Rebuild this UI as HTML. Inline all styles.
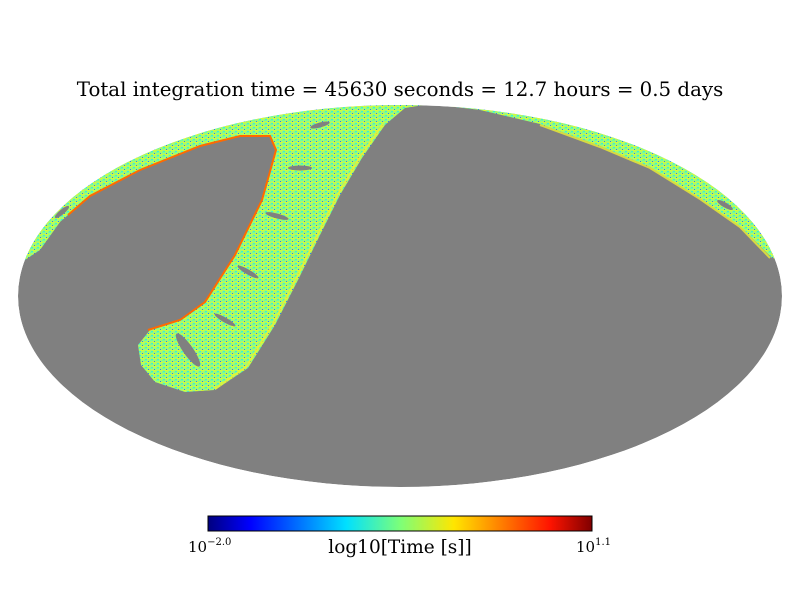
<!DOCTYPE html>
<html><head><meta charset="utf-8"><style>
html,body{margin:0;padding:0;background:#fff;width:800px;height:600px;overflow:hidden}
svg{display:block}
</style></head><body>
<svg width="800" height="600" viewBox="0 0 800 600">
<defs>
<clipPath id="ell"><ellipse cx="400" cy="296" rx="382" ry="191"/></clipPath>
<pattern id="tex" width="6" height="4" patternUnits="userSpaceOnUse">
<rect width="6" height="4" fill="#a8fa6a"/>
<rect x="0" y="0" width="3" height="1" fill="#6cffa0"/>
<rect x="3" y="2" width="3" height="1" fill="#d8ff30"/>
<rect x="1" y="3" width="2" height="1" fill="#40f0d0"/>
<rect x="4" y="1" width="1" height="1" fill="#2080ff"/>
</pattern>
<linearGradient id="jet" x1="0" x2="1" y1="0" y2="0">
<stop offset="0" stop-color="#00007f"/><stop offset="0.11" stop-color="#0000ff"/>
<stop offset="0.36" stop-color="#00e0ff"/><stop offset="0.5" stop-color="#7cff79"/>
<stop offset="0.64" stop-color="#ffe600"/><stop offset="0.89" stop-color="#ff1400"/>
<stop offset="1" stop-color="#7f0000"/></linearGradient>
</defs>
<text x="400" y="96" text-anchor="middle" font-family="'DejaVu Serif','Liberation Serif',serif" font-size="19.8" fill="#000">Total integration time = 45630 seconds = 12.7 hours = 0.5 days</text>
<g clip-path="url(#ell)">
<ellipse cx="400" cy="296" rx="382" ry="191" fill="#808080"/>
<path fill="url(#tex)" d="M0,262 L0,0 L800,0 L800,262 L772,258 L740,226 L700,198 L650,167 L600,146 L540,124 L480,110 L430,104 L405,108 L385,125 L362,158 L340,195 L320,235 L298,280 L275,325 L248,368 L215,390 L185,392 L155,382 L141,365 L138,345 L150,330 L180,320 L205,302 L235,255 L262,200 L276,150 L270,136 L240,136 L200,146 L140,170 L90,196 L60,222 L40,250 L22,262 Z"/>
<path fill="none" stroke="#ff6a00" stroke-width="2" d="M148,330 L180,320 L205,302 L235,255 L262,200 L276,150 L270,136 L240,136 L200,146 L140,170 L90,196 L68,215"/>
<path fill="none" stroke="#eef030" stroke-width="2" opacity="0.8" d="M215,389 L246,367 L273,324 L296,279 L318,234 L338,194 L360,157 L383,124 M540,125 L600,147 L650,168 L700,199 L740,227 L770,258"/>
<g fill="#808080">
<ellipse cx="188" cy="350" rx="5" ry="20" transform="rotate(-35 188 350)"/>
<ellipse cx="225" cy="320" rx="12" ry="2.5" transform="rotate(30 225 320)"/>
<ellipse cx="248" cy="272" rx="12" ry="2.5" transform="rotate(30 248 272)"/>
<ellipse cx="277" cy="216" rx="12" ry="2.5" transform="rotate(15 277 216)"/>
<ellipse cx="300" cy="168" rx="12" ry="2.5"/>
<ellipse cx="320" cy="125" rx="10" ry="2.5" transform="rotate(-15 320 125)"/>
<ellipse cx="725" cy="205" rx="9" ry="2.5" transform="rotate(30 725 205)"/>
<ellipse cx="62" cy="212" rx="9" ry="2.5" transform="rotate(-40 62 212)"/>
</g>
</g>
<rect x="208" y="516" width="384" height="15" fill="url(#jet)" stroke="#000" stroke-width="1"/>
<text x="188" y="552" font-family="'DejaVu Serif','Liberation Serif',serif" font-size="15">10<tspan dy="-7" font-size="10">−2.0</tspan></text>
<text x="576" y="552" font-family="'DejaVu Serif','Liberation Serif',serif" font-size="15">10<tspan dy="-7" font-size="10">1.1</tspan></text>
<text x="400" y="553" text-anchor="middle" font-family="'DejaVu Serif','Liberation Serif',serif" font-size="18.5">log10[Time [s]]</text>
</svg>
</body></html>
